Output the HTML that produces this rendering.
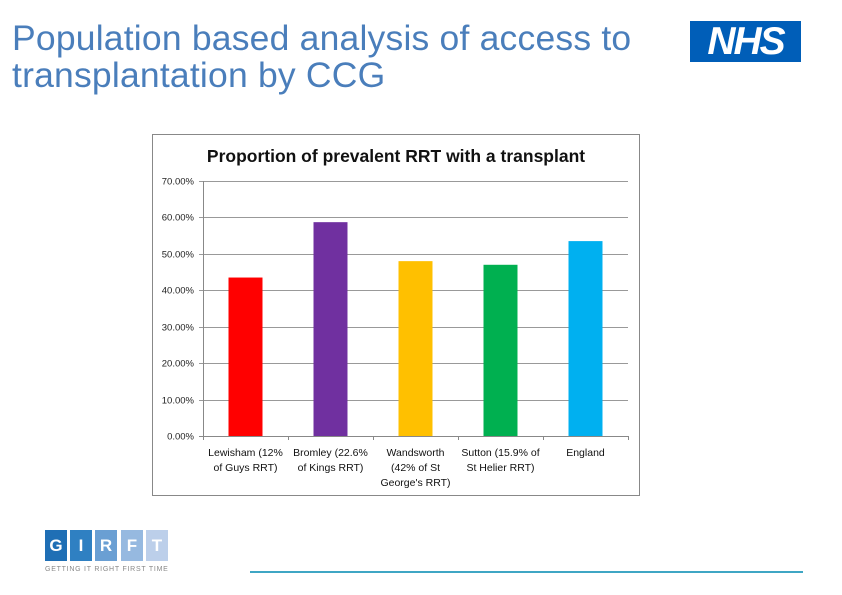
<!DOCTYPE html>
<html><head><meta charset="utf-8"><style>
body{margin:0;width:842px;height:595px;background:#fff;position:relative;overflow:hidden;font-family:"Liberation Sans",sans-serif}
.title{position:absolute;left:12px;top:20px;font-size:35.5px;line-height:37px;color:#4a7ebb;letter-spacing:0.2px;white-space:nowrap}
.nhs{position:absolute;left:690px;top:21px;width:111px;height:41px;background:#005eb8;color:#fff;font:italic bold 39px/41px "Liberation Sans",sans-serif;text-align:center;letter-spacing:-2px}
.gb{position:absolute;top:530px;width:22px;height:31px;color:#fff;font:bold 17px/31px "Liberation Sans",sans-serif;text-align:center}
</style></head><body>
<div class="title">Population based analysis of access to<br>transplantation by CCG</div>
<div class="nhs">NHS</div>
<svg width="842" height="595" style="position:absolute;left:0;top:0">
<rect x="152.5" y="134.5" width="487" height="361" fill="#fff" stroke="#888"/>
<text x="396" y="162" text-anchor="middle" font-family="Liberation Sans,sans-serif" font-size="17.5" font-weight="bold" fill="#111">Proportion of prevalent RRT with a transplant</text>
<g id="grid"></g><g id="bars"></g><g id="xl"></g>
</svg>
<div class="gb" style="left:45px;background:#1f6fb5">G</div>
<div class="gb" style="left:70px;background:#2f80c2">I</div>
<div class="gb" style="left:95px;background:#6a9fd3">R</div>
<div class="gb" style="left:121px;background:#96b9e0">F</div>
<div class="gb" style="left:146px;background:#bccfea">T</div>
<div style="position:absolute;left:45px;top:566px;width:200px;font-size:7px;letter-spacing:0.75px;color:#888;white-space:nowrap">GETTING IT RIGHT FIRST TIME</div>
<div style="position:absolute;left:250px;top:571px;width:553px;height:2px;background:#3fa6c4"></div>
<script>
const categories=[["Lewisham (12%","of Guys RRT)"],["Bromley (22.6%","of Kings RRT)"],["Wandsworth","(42% of St","George's RRT)"],["Sutton (15.9% of","St Helier RRT)"],["England"]];
const values=[43.5,58.7,48.0,47.0,53.5];
const colors=["#ff0000","#7030a0","#ffc000","#00b050","#00b0f0"];
const ticks=[0,10,20,30,40,50,60,70];
const NS="http://www.w3.org/2000/svg";
const x0=203,x1=628,y0=436,y1=181,ymax=70;
const yS=v=>y0-(v/ymax)*(y0-y1);
const band=(x1-x0)/categories.length;
function mk(t,a,p){const e=document.createElementNS(NS,t);for(const k in a)e.setAttribute(k,a[k]);p.appendChild(e);return e;}
const g=document.getElementById('grid'),b=document.getElementById('bars'),xl=document.getElementById('xl');
ticks.forEach(t=>{const y=Math.round(yS(t))+0.5;
 const l=mk('line',{x1:x0-4,x2:x1,y1:y,y2:y,stroke:t===0?'#888':'#999'},g);
 
 
 const tx=mk('text',{x:194,y:y+3,'text-anchor':'end','font-size':'9.5','font-family':'Liberation Sans,sans-serif',fill:'#222'},g);
 tx.textContent=t.toFixed(2)+'%';
 
 
});
mk('line',{x1:x0+0.5,x2:x0+0.5,y1:y1,y2:y0+4,stroke:'#888'},g);
for(let i=0;i<=categories.length;i++){mk('line',{x1:x0+i*band+0.5,x2:x0+i*band+0.5,y1:y0,y2:y0+4,stroke:'#888'},g);}
values.forEach((v,i)=>{const cx=x0+band*(i+0.5),w=34;
 const r=mk('rect',{x:cx-w/2,y:yS(v),width:w,height:y0-yS(v),fill:colors[i]},b);
 
 
 categories[i].forEach((s,j)=>{const t=mk('text',{x:cx,y:456+j*15,'text-anchor':'middle','font-size':'10.5','font-family':'Liberation Sans,sans-serif',fill:'#111'},xl);
  t.textContent=s;
  
  });
});
</script>
</body></html>
